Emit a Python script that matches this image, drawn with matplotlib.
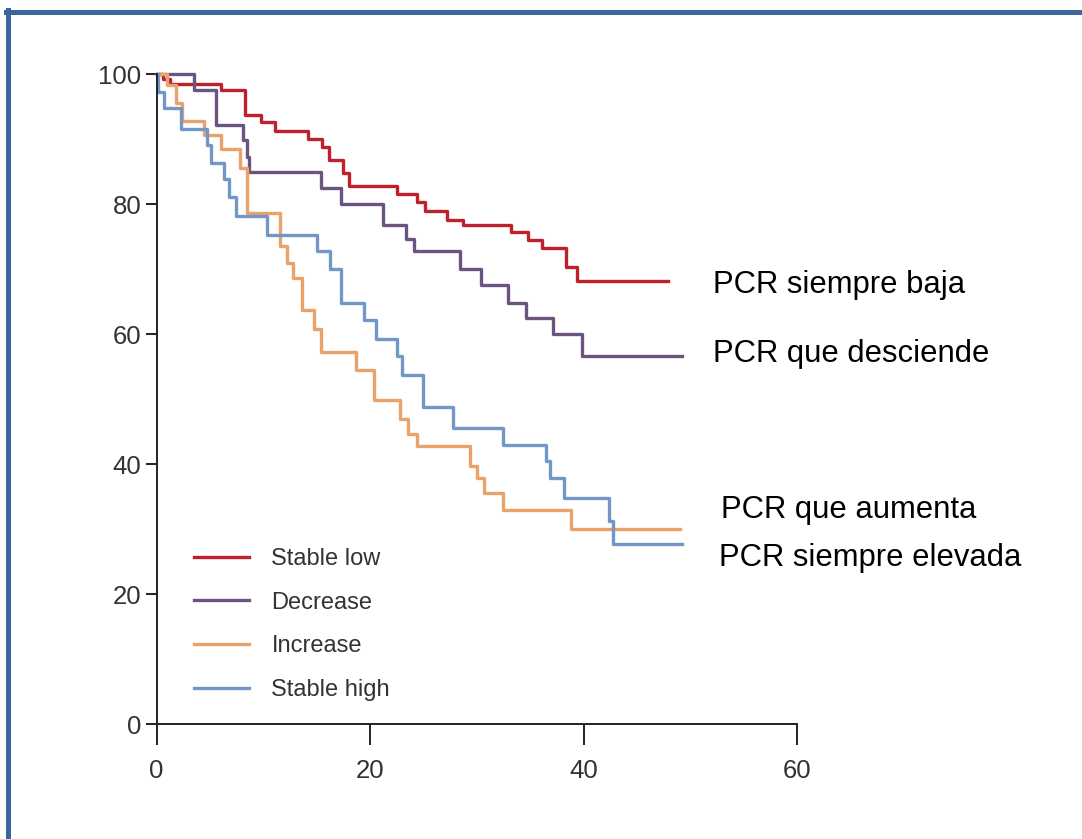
import numpy as np
import matplotlib.pyplot as plt
from matplotlib.lines import Line2D

# =========================================================
# DATA  (months vs. survival %)
# =========================================================

groups = ["Stable low", "Decrease", "Increase", "Stable high"]
group_notes = ["PCR siempre baja", "PCR que desciende",
               "PCR que aumenta", "PCR siempre elevada"]

t_low = [0, 0.6, 1.3, 6.0, 8.3, 9.8, 11.1, 14.2, 15.5, 16.1, 17.5, 18.0,
         22.5, 24.4, 25.1, 27.2, 28.7, 33.2, 34.8, 36.1, 38.3, 39.4, 47.9]
s_low = [100, 99.2, 98.4, 97.5, 93.7, 92.6, 91.2, 90.0, 88.7, 86.8, 84.7, 82.8,
         81.6, 80.3, 79.0, 77.6, 76.8, 75.7, 74.4, 73.2, 70.3, 68.2, 68.2]

t_dec = [0, 3.5, 5.6, 8.1, 8.5, 8.7, 15.4, 17.3, 21.2, 23.4, 24.1, 28.4,
         30.4, 32.9, 34.6, 37.1, 39.8, 49.2]
s_dec = [100, 97.5, 92.2, 89.8, 87.2, 85.0, 82.5, 80.0, 76.8, 74.6, 72.8, 70.0,
         67.5, 64.7, 62.4, 60.0, 56.6, 56.6]

t_inc = [0, 1.0, 1.8, 2.4, 4.4, 6.0, 7.8, 8.5, 11.6, 12.2, 12.8, 13.6, 14.7,
         15.4, 18.7, 20.4, 22.8, 23.5, 24.4, 29.3, 30.0, 30.7, 32.4, 38.8, 49.0]
s_inc = [100, 98.3, 95.5, 92.8, 90.6, 88.4, 85.5, 78.6, 73.5, 70.9, 68.6, 63.7, 60.7,
         57.2, 54.4, 49.8, 46.9, 44.6, 42.8, 39.7, 37.9, 35.5, 32.9, 30.0, 30.0]

t_high = [0, 0.1, 0.7, 2.3, 4.7, 5.1, 6.3, 6.8, 7.4, 10.3, 15.0, 16.2, 17.3, 19.4,
          20.5, 22.5, 23.0, 24.9, 27.8, 32.4, 36.5, 36.8, 38.1, 42.4, 42.7, 49.2]
s_high = [100, 97.2, 94.7, 91.6, 89.1, 86.3, 83.9, 81.1, 78.2, 75.2, 72.8, 70.0, 64.7, 62.2,
          59.2, 56.6, 53.7, 48.7, 45.6, 43.0, 40.4, 37.8, 34.8, 31.3, 27.7, 27.7]

x_ticks = [0, 20, 40, 60]
y_ticks = [0, 20, 40, 60, 80, 100]

colors = ["#C0202C", "#6C5480", "#E8A26A", "#7296C6"]

# =========================================================
# PLOT
# =========================================================

W, H = 1082, 839
fig = plt.figure(figsize=(W / 100, H / 100), dpi=100)
ax = fig.add_axes([156.5 / W, 1 - 724 / H, 641 / W, 650 / H])

curves = [(t_low, s_low), (t_dec, s_dec), (t_inc, s_inc), (t_high, s_high)]
for (t, s), c, lab in zip(curves, colors, groups):
    ax.step(t, s, where="post", color=c, lw=2.4, label=lab, clip_on=False)

ax.set_xlim(0, 60)
ax.set_ylim(0, 100)
ax.set_xticks(x_ticks)
ax.set_yticks(y_ticks)
for sp in ["top", "right"]:
    ax.spines[sp].set_visible(False)
for sp in ["left", "bottom"]:
    ax.spines[sp].set_linewidth(1.4)
    ax.spines[sp].set_color("#222222")

ax.tick_params(axis="y", length=8, width=1.4, pad=3, color="#222222",
               labelsize=18.5, labelcolor="#333333")
ax.tick_params(axis="x", length=15, width=1.4, pad=10, color="#222222",
               labelsize=18.5, labelcolor="#333333")
for lbl in ax.get_xticklabels() + ax.get_yticklabels():
    lbl.set_family("Liberation Sans")

leg = ax.legend(loc="upper left", bbox_to_anchor=(0.040, 0.289), frameon=False,
                handlelength=2.33, handletextpad=0.95, labelspacing=0.92,
                borderpad=0, prop={"family": "Liberation Sans", "size": 17})
for txt in leg.get_texts():
    txt.set_color("#333333")

# group notes on the right
note_pos = [(713, 293), (713, 362), (721, 518), (719, 566)]
for note, (px, py) in zip(group_notes, note_pos):
    fig.text(px / W, 1 - py / H, note, family="Liberation Sans", fontsize=22.3,
             color="black", ha="left", va="baseline")

# blue frame along top and left edges
fig.add_artist(Line2D([6 / W, 1], [1 - 12 / H, 1 - 12 / H], color="#3B6699",
                      lw=3.6, transform=fig.transFigure))
fig.add_artist(Line2D([8 / W, 8 / W], [0, 1 - 10 / H], color="#3B6699",
                      lw=3.6, transform=fig.transFigure))

fig.savefig("out.png", dpi=100)
